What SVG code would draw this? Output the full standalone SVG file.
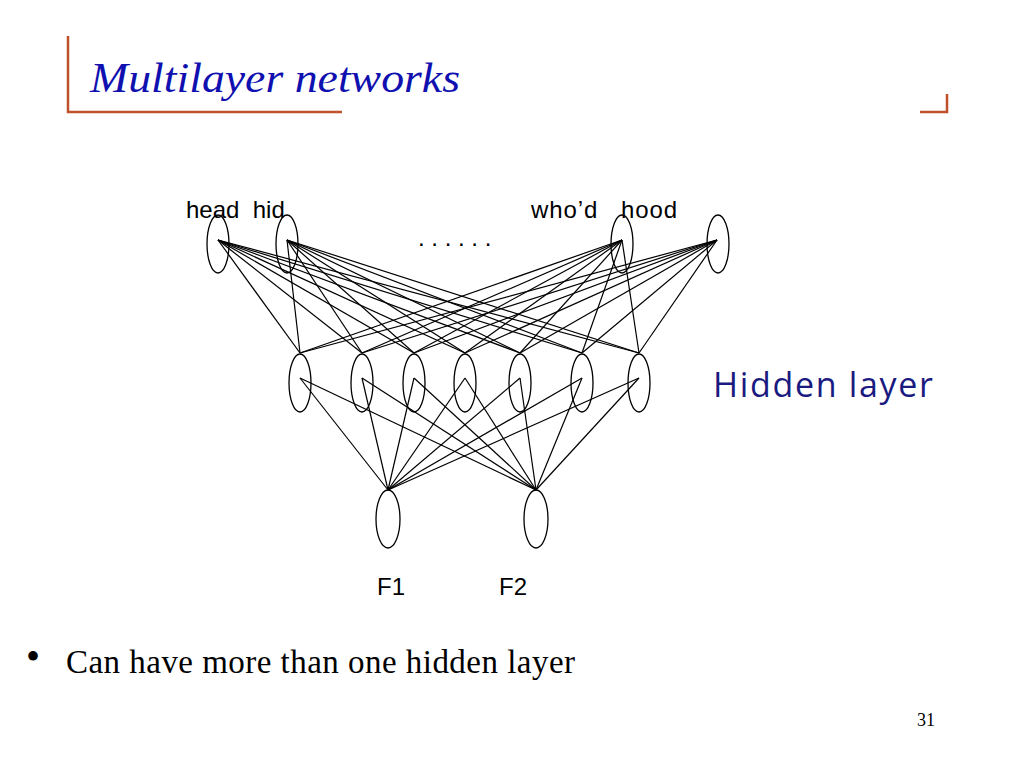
<svg xmlns="http://www.w3.org/2000/svg" width="1024" height="768" viewBox="0 0 1024 768">
<style>
.n{fill:none;stroke:#000;stroke-width:1.3}
.c line{stroke:#000;stroke-width:1.2}
.t{font-family:"Liberation Sans",Arial,sans-serif;font-size:24px;fill:#000}
</style>
<rect width="1024" height="768" fill="#fff"/>
<g id="frame" stroke="#c0502a" stroke-width="2.5" fill="none">
<path d="M68 36 V112 H342"/>
<path d="M947 94 V112 H920"/>
</g>
<text x="90" y="92" font-family="'Liberation Serif',serif" font-style="italic" font-size="42" fill="#1010b0" textLength="370" lengthAdjust="spacingAndGlyphs">Multilayer networks</text>
<g class="c" id="connectors">
<g id="top">
<line x1="218" y1="240" x2="300" y2="353"/><line x1="218" y1="240" x2="362" y2="353"/><line x1="218" y1="240" x2="414" y2="353"/><line x1="218" y1="240" x2="465" y2="353"/><line x1="218" y1="240" x2="520" y2="353"/><line x1="218" y1="240" x2="582" y2="353"/><line x1="218" y1="240" x2="639" y2="353"/>
<line x1="287" y1="240" x2="300" y2="353"/><line x1="287" y1="240" x2="362" y2="353"/><line x1="287" y1="240" x2="414" y2="353"/><line x1="287" y1="240" x2="465" y2="353"/><line x1="287" y1="240" x2="520" y2="353"/><line x1="287" y1="240" x2="582" y2="353"/><line x1="287" y1="240" x2="639" y2="353"/>
<line x1="622" y1="240" x2="300" y2="353"/><line x1="622" y1="240" x2="362" y2="353"/><line x1="622" y1="240" x2="414" y2="353"/><line x1="622" y1="240" x2="465" y2="353"/><line x1="622" y1="240" x2="520" y2="353"/><line x1="622" y1="240" x2="582" y2="353"/><line x1="622" y1="240" x2="639" y2="353"/>
<line x1="717" y1="240" x2="300" y2="353"/><line x1="717" y1="240" x2="362" y2="353"/><line x1="717" y1="240" x2="414" y2="353"/><line x1="717" y1="240" x2="465" y2="353"/><line x1="717" y1="240" x2="520" y2="353"/><line x1="717" y1="240" x2="582" y2="353"/><line x1="717" y1="240" x2="639" y2="353"/>
</g>
<g id="bottom">
<line x1="300" y1="378" x2="388" y2="490"/><line x1="300" y1="378" x2="536" y2="490"/>
<line x1="362" y1="378" x2="388" y2="490"/><line x1="362" y1="378" x2="536" y2="490"/>
<line x1="414" y1="378" x2="388" y2="490"/><line x1="414" y1="378" x2="536" y2="490"/>
<line x1="465" y1="378" x2="388" y2="490"/><line x1="465" y1="378" x2="536" y2="490"/>
<line x1="520" y1="378" x2="388" y2="490"/><line x1="520" y1="378" x2="536" y2="490"/>
<line x1="582" y1="378" x2="388" y2="490"/><line x1="582" y1="378" x2="536" y2="490"/>
<line x1="639" y1="378" x2="388" y2="490"/><line x1="639" y1="378" x2="536" y2="490"/>
</g>
</g>
<g id="in1"><ellipse class="n" cx="218" cy="244" rx="11" ry="29"/></g>
<g id="in2"><ellipse class="n" cx="287" cy="244" rx="11" ry="29"/></g>
<g id="in3"><ellipse class="n" cx="622" cy="244" rx="11" ry="29"/></g>
<g id="in4"><ellipse class="n" cx="718" cy="244" rx="11" ry="29"/></g>
<g id="h1"><ellipse class="n" cx="300" cy="383" rx="11" ry="29"/></g>
<g id="h2"><ellipse class="n" cx="362" cy="383" rx="11" ry="29"/></g>
<g id="h3"><ellipse class="n" cx="414" cy="383" rx="11" ry="29"/></g>
<g id="h4"><ellipse class="n" cx="465" cy="383" rx="11" ry="29"/></g>
<g id="h5"><ellipse class="n" cx="520" cy="383" rx="11" ry="29"/></g>
<g id="h6"><ellipse class="n" cx="582" cy="383" rx="11" ry="29"/></g>
<g id="h7"><ellipse class="n" cx="639" cy="383" rx="11" ry="29"/></g>
<g id="f1"><ellipse class="n" cx="388" cy="519" rx="12" ry="29"/></g>
<g id="f2"><ellipse class="n" cx="536" cy="519" rx="12" ry="29"/></g>
<text class="t" x="186" y="218" xml:space="preserve">head  hid</text>
<text class="t" x="531" y="218" xml:space="preserve" textLength="146">who’d   hood</text>
<text class="t" x="418" y="246" font-size="18" xml:space="preserve">. . . . . .</text>
<text class="t" x="377" y="595">F1</text>
<text class="t" x="499" y="595">F2</text>
<text x="713" y="397" font-family="'Open Sans','DejaVu Sans',sans-serif" font-size="34" fill="#1a1a80" textLength="220">Hidden layer</text>
<text x="26" y="670" font-family="'Liberation Serif',serif" font-size="40" fill="#000">•</text>
<text x="66" y="673" font-family="'Liberation Serif',serif" font-size="33" fill="#000" textLength="509">Can have more than one hidden layer</text>
<text x="917" y="726" font-family="'Liberation Serif',serif" font-size="18" fill="#000">31</text>
</svg>
